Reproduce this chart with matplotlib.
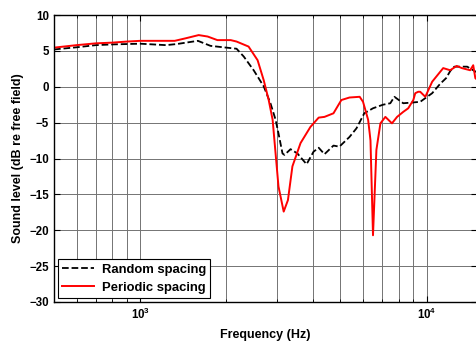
import matplotlib
matplotlib.use('Agg')
import matplotlib.pyplot as plt
from matplotlib.ticker import LogLocator, NullFormatter

plt.rcParams['font.family'] = ['Liberation Sans', 'DejaVu Sans']
plt.rcParams['font.weight'] = 'bold'
plt.rcParams['mathtext.fontset'] = 'custom'
plt.rcParams['mathtext.rm'] = 'Liberation Sans:bold'
plt.rcParams['mathtext.bf'] = 'Liberation Sans:bold'
plt.rcParams['mathtext.default'] = 'bf'

# random spacing (black dashed)
rand_f = [500, 600, 700, 800, 1000, 1230, 1340, 1590, 1760, 1950, 2170, 2300,
          2490, 2700, 2850, 2970, 3040, 3140, 3190, 3350, 3540, 3810, 4030,
          4200, 4400, 4730, 4960, 5380, 5690, 6060, 6500, 7050, 7470, 7720,
          8290, 8900, 9500, 10460, 11150, 11700, 12100, 12500, 13860, 14550,
          15000]
rand_db = [5.2, 5.5, 5.8, 5.9, 6.0, 5.8, 5.95, 6.4, 5.7, 5.5, 5.3, 4.2,
           2.3, 0.05, -2.3, -4.6, -6.5, -9.3, -9.5, -8.7, -9.3, -10.8, -9.05,
           -8.5, -9.4, -8.2, -8.35, -7.0, -5.8, -3.7, -3.0, -2.5, -2.3, -1.4,
           -2.3, -2.2, -2.1, -0.9, 0.4, 1.2, 2.2, 2.8, 2.8, 2.3, 2.0]

# periodic spacing (red)
per_f = [500, 600, 700, 800, 900, 1000, 1320, 1440, 1600, 1720, 1860, 2070,
         2170, 2390, 2570, 2700, 2810, 2900, 2970, 3040, 3170, 3280, 3400,
         3630, 3930, 4200, 4400, 4730, 5040, 5380, 5840, 6000, 6250, 6330,
         6370, 6500, 6680, 6900, 7180, 7570, 7890, 8290, 8630, 8990, 9130,
         9350, 9500, 9900, 10460, 11430, 12090, 12740, 13280, 14200, 14550,
         14800, 15000]
per_db = [5.45, 5.8, 6.05, 6.15, 6.3, 6.4, 6.4, 6.75, 7.2, 7.0, 6.5, 6.5,
          6.3, 5.6, 3.7, 0.9, -1.85, -4.6, -9.3, -13.9, -17.4, -15.8, -11.1,
          -7.85, -5.6, -4.3, -4.2, -3.7, -1.85, -1.5, -1.4, -2.1, -4.6, -6.5,
          -7.5, -20.7, -8.8, -5.1, -4.2, -5.1, -4.2, -3.5, -3.0, -1.85, -0.9,
          -0.7, -0.7, -1.4, 0.7, 2.6, 2.3, 2.9, 2.6, 2.3, 3.0, 1.2, 1.0]

yticks = [-30, -25, -20, -15, -10, -5, 0, 5, 10]

fig = plt.figure(figsize=(4.76, 3.45), dpi=100)
ax = fig.add_axes([54/476, 1 - 302/345, (477 - 54)/476, 287/345])

ax.semilogx(rand_f, rand_db, 'k--', lw=1.3, label='Random spacing')
ax.semilogx(per_f, per_db, color='red', lw=1.4, label='Periodic spacing')

ax.set_xlim(500, 15000)
ax.set_ylim(-30, 10)
ax.set_yticks(yticks)
ax.xaxis.set_major_locator(LogLocator(base=10))
ax.xaxis.set_minor_locator(LogLocator(base=10, subs=range(2, 10)))
ax.xaxis.set_minor_formatter(NullFormatter())

ax.grid(True, which='both', color='0.45', lw=0.7)
ax.tick_params(which='both', direction='in', top=True, right=True, labelsize=8.3)
ax.tick_params(which='major', length=4)
ax.tick_params(which='minor', length=2.5)
for s in ax.spines.values():
    s.set_linewidth(1.0)

ax.set_xlabel('Frequency (Hz)', fontsize=9, fontweight='bold', labelpad=5)
ax.set_ylabel('Sound level (dB re free field)', fontsize=9, fontweight='bold', labelpad=4)

leg = ax.legend(loc='lower left', fontsize=9.4, handlelength=2.4, fancybox=False,
                framealpha=1, edgecolor='black', borderpad=0.35, labelspacing=0.45,
                handletextpad=0.6, borderaxespad=0.3)
leg.get_frame().set_linewidth(0.8)

fig.savefig('out.png', dpi=100)
